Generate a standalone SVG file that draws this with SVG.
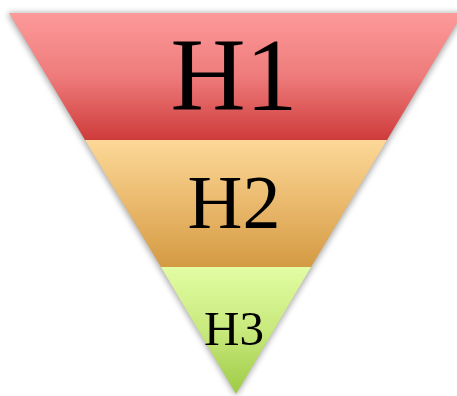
<svg xmlns="http://www.w3.org/2000/svg" width="457" height="396" viewBox="0 0 457 396">
  <defs>
    <linearGradient id="gRed" x1="0" y1="0" x2="0" y2="1">
      <stop offset="0" stop-color="#fd9a9a"/>
      <stop offset="0.5" stop-color="#ee7b7b"/>
      <stop offset="1" stop-color="#cf3b3b"/>
    </linearGradient>
    <linearGradient id="gTan" x1="0" y1="0" x2="0" y2="1">
      <stop offset="0" stop-color="#fcd898"/>
      <stop offset="0.5" stop-color="#eab96d"/>
      <stop offset="1" stop-color="#d49a43"/>
    </linearGradient>
    <linearGradient id="gGreen" x1="0" y1="0" x2="0" y2="1">
      <stop offset="0" stop-color="#e2fda3"/>
      <stop offset="0.5" stop-color="#c8e97c"/>
      <stop offset="1" stop-color="#9dcb45"/>
    </linearGradient>
    <filter id="shadow" x="-10%" y="-10%" width="120%" height="120%">
      <feGaussianBlur stdDeviation="3"/>
    </filter>
  </defs>
  <style>
    .lbl { font-family: "Liberation Serif", "Times New Roman", serif; fill: #000000; text-anchor: middle; }
  </style>
  <rect x="0" y="0" width="457" height="396" fill="#ffffff"/>
  <polygon points="7,13 465,13 236,396" fill="#000000" opacity="0.35" filter="url(#shadow)"/>
  <g id="band-h1">
    <polygon points="9,13 463,13 387,140 85,140" fill="url(#gRed)"/>
    <text class="lbl" x="234" y="110" font-size="104">H1</text>
  </g>
  <g id="band-h2">
    <polygon points="85,140 387,140 311,267 161,267" fill="url(#gTan)"/>
    <text class="lbl" x="234" y="228" font-size="76">H2</text>
  </g>
  <g id="band-h3">
    <polygon points="161,267 311,267 236,394" fill="url(#gGreen)"/>
    <text class="lbl" x="234" y="345" font-size="49">H3</text>
  </g>
</svg>
